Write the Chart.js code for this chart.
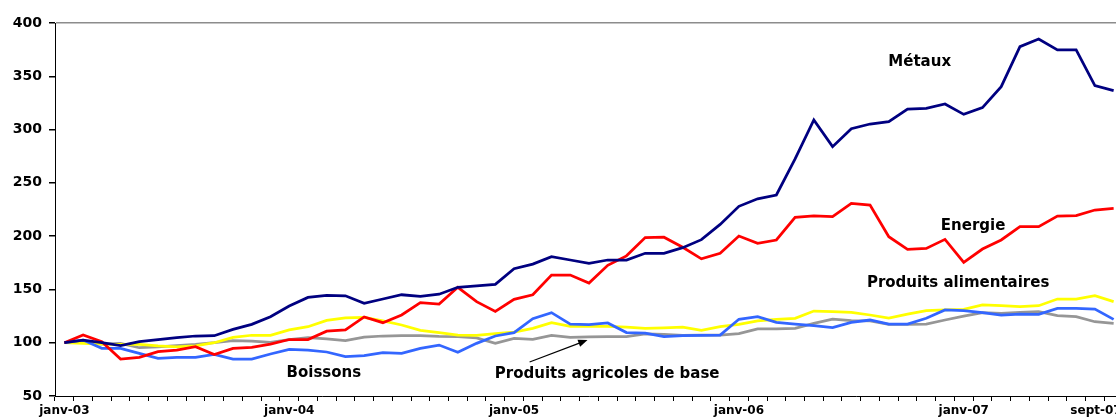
<!DOCTYPE html>
<html>
<head>
<meta charset="utf-8">
<script src="https://cdn.jsdelivr.net/npm/chart.js@4/dist/chart.umd.min.js"></script>
<style>
  html, body { margin: 0; padding: 0; background: #fff; }
  #frame { width: 1116px; height: 419px; overflow: hidden; position: relative; }
  #chart { display: block; }
</style>
</head>
<body>
<div id="frame"><canvas id="chart" width="1123" height="419"></canvas></div>
<script>
// monthly categories janv-03 .. sept-07
const MONTHS = ['janv', 'févr', 'mars', 'avr', 'mai', 'juin', 'juil', 'août', 'sept', 'oct', 'nov', 'déc'];
const categories = [];
for (let y = 3; y <= 7; y++) {
  for (let m = 0; m < 12; m++) {
    if (y === 7 && m > 8) break;
    categories.push(`${MONTHS[m]}-0${y}`);
  }
}
const shownTicks = ['janv-03', 'janv-04', 'janv-05', 'janv-06', 'janv-07', 'sept-07'];
const yTicks = [50, 100, 150, 200, 250, 300, 350, 400];

const metaux = [100, 102.5, 100, 97.2, 101, 103, 104.7, 106.3, 106.6, 112.5, 117.2, 124.4,
  134.4, 142.5, 144.4, 144, 137, 141, 145, 143.5, 145.5, 152, 153.3, 154.8,
  169.5, 173.8, 180.7, 177.6, 174.5, 177.6, 177.6, 183.9, 183.9, 189.2, 196.7, 211,
  228, 235, 238.6, 272.5, 309, 284, 300.8, 305.2, 307.4, 319.3, 320, 324,
  314.3, 320.6, 340.3, 377.8, 385, 374.7, 374.7, 341.2, 336.5];
const energie = [100, 107.2, 101, 84.7, 86.2, 91.6, 93, 96.2, 89, 94.7, 95.6, 98.7,
  103, 103, 110.8, 112, 124.2, 118.8, 126, 137.6, 136.2, 152, 138.5, 129.4,
  140.7, 145, 163.5, 163.5, 156, 172.6, 181.5, 198.6, 199, 189.6, 178.7, 183.9,
  200.1, 193.2, 196.4, 217.6, 219, 218.3, 230.8, 229.2, 199.5, 187.6, 188.5, 197,
  175.4, 187.9, 196.4, 208.9, 208.9, 218.9, 219.2, 224.5, 226.1];
const alimentaires = [100, 99.4, 98.7, 98.5, 98.4, 97, 96, 97, 100, 105, 107, 107,
  112, 115, 121, 123.2, 123.8, 120.4, 116.6, 111.6, 109.5, 107.2, 106.8, 108.5,
  110, 113.5, 118.8, 115.4, 115.4, 115.4, 114.7, 113.5, 114, 114.7, 111.6, 115,
  117.2, 120.4, 121.9, 122.9, 129.7, 129.1, 128.5, 126, 123.2, 126.9, 130, 130.7,
  131.3, 135.4, 134.7, 133.8, 134.7, 141, 141, 144.1, 138.5];
const boissons = [100, 102.5, 94.7, 94.7, 90, 85.3, 86.2, 86.2, 89, 84.7, 84.7, 89.4,
  93.7, 93, 91.3, 86.9, 87.8, 90.6, 90, 94.7, 97.8, 91, 99.4, 106.3,
  109.4, 122.5, 128.2, 117.5, 117, 118.5, 109.5, 109, 105.7, 106.6, 106.8, 107.2,
  122, 124.4, 119.1, 117.5, 116, 114.1, 119.1, 121.3, 117.5, 117.5, 122.9, 130.7,
  130, 128.2, 126, 126.9, 126.6, 132.2, 132.2, 131.6, 121.9];
const agricoles = [100, 101, 98.7, 99.4, 95.3, 96.2, 97.2, 98.4, 100, 102, 101.6, 100.3,
  103, 104.7, 103.6, 102, 105.3, 106.3, 106.6, 106.6, 105.9, 105.7, 104.5, 99.5,
  104.1, 103.2, 106.8, 105, 105.5, 105.7, 105.7, 108.2, 107.8, 106.8, 107.2, 107.2,
  108.5, 112.9, 112.9, 113.5, 118.2, 122.2, 120.7, 120.4, 117.2, 117.2, 117.5, 121.3,
  125, 128.2, 127.6, 128.5, 129.1, 125.4, 124.4, 119.7, 118.2];

// text labels placed in data space: [text, category index, value]
const notes = [
  ['Métaux', 45.65, 363],
  ['Energie', 48.5, 209.5],
  ['Produits alimentaires', 47.7, 155.7],
  ['Boissons', 13.85, 71.3],
  ['Produits agricoles de base', 28.97, 70.6],
];
const arrowFrom = [24.83, 81.9];
const arrowTo = [27.92, 102.5];

const FONT = '"DejaVu Sans", Verdana, sans-serif';

function line(label, data, color) {
  return {
    label, data,
    borderColor: color,
    backgroundColor: color,
    borderWidth: 2.75,
    pointRadius: 0,
    tension: 0,
    fill: false,
  };
}

const notesPlugin = {
  id: 'notes',
  afterDatasetsDraw(chart) {
    const { ctx, scales: { x, y } } = chart;
    ctx.save();
    ctx.fillStyle = '#000';
    ctx.font = `bold 15px ${FONT}`;
    ctx.textAlign = 'center';
    ctx.textBaseline = 'middle';
    notes.forEach(([text, i, v]) => ctx.fillText(text, x.getPixelForValue(i), y.getPixelForValue(v)));

    const x1 = x.getPixelForValue(arrowFrom[0]), y1 = y.getPixelForValue(arrowFrom[1]);
    const x2 = x.getPixelForValue(arrowTo[0]), y2 = y.getPixelForValue(arrowTo[1]);
    const ang = Math.atan2(y2 - y1, x2 - x1);
    ctx.strokeStyle = '#000';
    ctx.lineWidth = 1.2;
    ctx.beginPath();
    ctx.moveTo(x1, y1);
    ctx.lineTo(x2 - 8 * Math.cos(ang), y2 - 8 * Math.sin(ang));
    ctx.stroke();
    ctx.beginPath();
    ctx.moveTo(x2, y2);
    ctx.lineTo(x2 - 10 * Math.cos(ang - 0.38), y2 - 10 * Math.sin(ang - 0.38));
    ctx.lineTo(x2 - 10 * Math.cos(ang + 0.38), y2 - 10 * Math.sin(ang + 0.38));
    ctx.closePath();
    ctx.fill();

    // last month label, pushed left so it stays on the page like in the original
    const last = categories.length - 1;
    ctx.font = `bold 12px ${FONT}`;
    ctx.textAlign = 'right';
    ctx.textBaseline = 'top';
    ctx.fillText(categories[last], x.getPixelForValue(last) + 8, x.top + 9);
    ctx.restore();
  },
};

new Chart(document.getElementById('chart'), {
  type: 'line',
  data: {
    labels: categories,
    datasets: [
      line('Métaux', metaux, '#000080'),
      line('Energie', energie, '#ff0000'),
      line('Boissons', boissons, '#3366ff'),
      line('Produits alimentaires', alimentaires, '#ffff00'),
      line('Produits agricoles de base', agricoles, '#969696'),
    ],
  },
  options: {
    responsive: false,
    animation: false,
    layout: { padding: { top: 23, right: 0, left: 0, bottom: 0 } },
    plugins: { legend: { display: false }, tooltip: { enabled: false } },
    scales: {
      x: {
        offset: true,
        afterFit(scale) { scale.height = 23; },
        border: { display: true, color: '#000', width: 1 },
        grid: { offset: true, drawOnChartArea: false, drawTicks: true, tickLength: 5, tickColor: '#000' },
        ticks: {
          autoSkip: false,
          maxRotation: 0,
          padding: 3,
          color: '#000',
          font: { family: FONT, size: 12, weight: 'bold' },
          callback(value) {
            const lab = categories[value];
            return shownTicks.includes(lab) && value !== categories.length - 1 ? lab : '';
          },
        },
      },
      y: {
        min: 50,
        max: 400,
        afterFit(scale) { scale.width = 55; },
        afterBuildTicks(scale) { scale.ticks = yTicks.map(v => ({ value: v })); },
        border: { display: true, color: '#000', width: 1 },
        grid: {
          drawTicks: true,
          tickLength: 6,
          tickColor: '#000',
          color: ctx => (ctx.tick && ctx.tick.value === 400 ? '#8c8c8c' : 'rgba(0,0,0,0)'),
          lineWidth: 1.5,
        },
        ticks: {
          padding: 7,
          color: '#000',
          font: { family: FONT, size: 14, weight: 'bold' },
        },
      },
    },
  },
  plugins: [notesPlugin],
});
</script>
</body>
</html>
